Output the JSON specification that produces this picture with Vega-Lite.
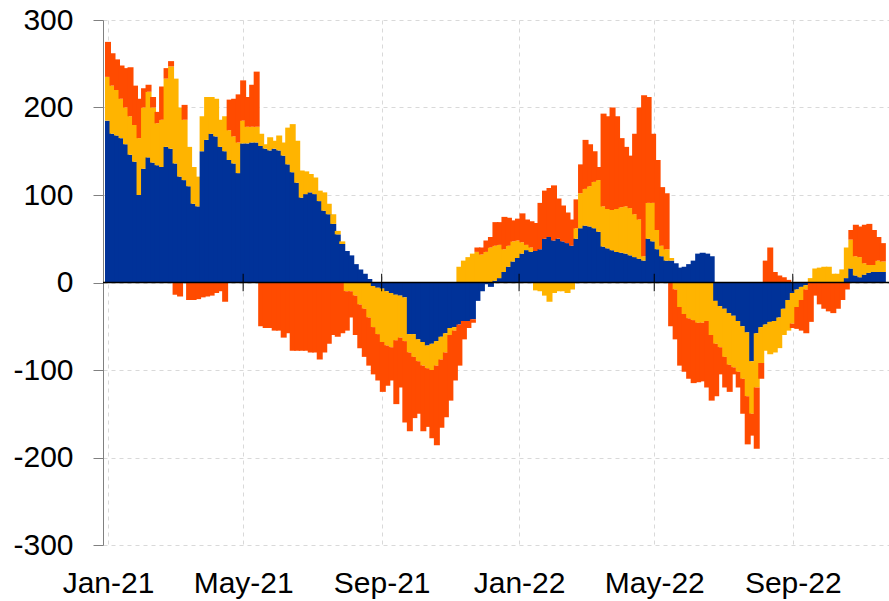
{
"$schema": "https://vega.github.io/schema/vega-lite/v6.json",
"width": 786,
"height": 525,
"autosize": {"type": "none"},
"padding": {"left": 103, "top": 20, "right": 0, "bottom": 56},
"background": "white",
"config": {"view": {"stroke": null}, "font": "Liberation Sans",
  "axis": {"labelFont": "Liberation Sans", "labelFontSize": 30, "labelColor": "#000000", "gridColor": "#d9d9d9", "gridDash": [4, 4], "gridWidth": 1, "title": null}},
"layer": [
{
"data": {"values": [
{"d":"2021-01-01","s1":185,"s2":50,"s3":40},
{"d":"2021-01-05","s1":170,"s2":55,"s3":37},
{"d":"2021-01-09","s1":168,"s2":52,"s3":35},
{"d":"2021-01-13","s1":165,"s2":45,"s3":38},
{"d":"2021-01-17","s1":158,"s2":42,"s3":45},
{"d":"2021-01-21","s1":146,"s2":44,"s3":56},
{"d":"2021-01-25","s1":138,"s2":42,"s3":45},
{"d":"2021-01-29","s1":100,"s2":65,"s3":45},
{"d":"2021-02-02","s1":130,"s2":70,"s3":22},
{"d":"2021-02-06","s1":143,"s2":75,"s3":8},
{"d":"2021-02-10","s1":137,"s2":63,"s3":12},
{"d":"2021-02-14","s1":134,"s2":48,"s3":13},
{"d":"2021-02-18","s1":132,"s2":54,"s3":38},
{"d":"2021-02-22","s1":155,"s2":78,"s3":12},
{"d":"2021-02-26","s1":153,"s2":94,"s3":6},
{"d":"2021-03-02","s1":136,"s2":97,"s3":-14},
{"d":"2021-03-06","s1":121,"s2":79,"s3":-16},
{"d":"2021-03-10","s1":117,"s2":69,"s3":17},
{"d":"2021-03-14","s1":110,"s2":45,"s3":-20},
{"d":"2021-03-18","s1":90,"s2":42,"s3":-20},
{"d":"2021-03-22","s1":87,"s2":34,"s3":-19},
{"d":"2021-03-26","s1":150,"s2":40,"s3":-17},
{"d":"2021-03-30","s1":163,"s2":49,"s3":-16},
{"d":"2021-04-03","s1":170,"s2":42,"s3":-15},
{"d":"2021-04-07","s1":167,"s2":43,"s3":-12},
{"d":"2021-04-11","s1":155,"s2":31,"s3":-10},
{"d":"2021-04-15","s1":150,"s2":40,"s3":-22},
{"d":"2021-04-19","s1":140,"s2":34,"s3":35},
{"d":"2021-04-23","s1":136,"s2":31,"s3":43},
{"d":"2021-04-27","s1":125,"s2":35,"s3":55},
{"d":"2021-05-01","s1":159,"s2":26,"s3":46},
{"d":"2021-05-05","s1":159,"s2":19,"s3":34},
{"d":"2021-05-09","s1":160,"s2":18,"s3":48},
{"d":"2021-05-13","s1":160,"s2":18,"s3":63},
{"d":"2021-05-17","s1":156,"s2":14,"s3":-50},
{"d":"2021-05-21","s1":153,"s2":5,"s3":-52},
{"d":"2021-05-25","s1":151,"s2":15,"s3":-52},
{"d":"2021-05-29","s1":153,"s2":9,"s3":-55},
{"d":"2021-06-02","s1":151,"s2":17,"s3":-55},
{"d":"2021-06-06","s1":145,"s2":15,"s3":-63},
{"d":"2021-06-10","s1":135,"s2":42,"s3":-58},
{"d":"2021-06-14","s1":126,"s2":55,"s3":-78},
{"d":"2021-06-18","s1":114,"s2":48,"s3":-78},
{"d":"2021-06-22","s1":97,"s2":31,"s3":-78},
{"d":"2021-06-26","s1":101,"s2":26,"s3":-78},
{"d":"2021-06-30","s1":103,"s2":21,"s3":-80},
{"d":"2021-07-04","s1":101,"s2":19,"s3":-80},
{"d":"2021-07-08","s1":93,"s2":12,"s3":-88},
{"d":"2021-07-12","s1":82,"s2":21,"s3":-80},
{"d":"2021-07-16","s1":78,"s2":12,"s3":-70},
{"d":"2021-07-20","s1":67,"s2":11,"s3":-60},
{"d":"2021-07-24","s1":55,"s2":4,"s3":-62},
{"d":"2021-07-28","s1":44,"s2":3,"s3":-58},
{"d":"2021-08-01","s1":36,"s2":-10,"s3":-45},
{"d":"2021-08-05","s1":31,"s2":-10,"s3":-30},
{"d":"2021-08-09","s1":21,"s2":-15,"s3":-45},
{"d":"2021-08-13","s1":15,"s2":-25,"s3":-50},
{"d":"2021-08-17","s1":10,"s2":-30,"s3":-55},
{"d":"2021-08-21","s1":4,"s2":-40,"s3":-55},
{"d":"2021-08-25","s1":-4,"s2":-47,"s3":-54},
{"d":"2021-08-29","s1":-6,"s2":-53,"s3":-53},
{"d":"2021-09-02","s1":-7,"s2":-61,"s3":-57},
{"d":"2021-09-06","s1":-10,"s2":-62,"s3":-46},
{"d":"2021-09-10","s1":-12,"s2":-62,"s3":-38},
{"d":"2021-09-14","s1":-14,"s2":-52,"s3":-73},
{"d":"2021-09-18","s1":-15,"s2":-48,"s3":-57},
{"d":"2021-09-22","s1":-17,"s2":-50,"s3":-93},
{"d":"2021-09-26","s1":-59,"s2":-21,"s3":-90},
{"d":"2021-09-30","s1":-59,"s2":-26,"s3":-70},
{"d":"2021-10-04","s1":-65,"s2":-25,"s3":-60},
{"d":"2021-10-08","s1":-68,"s2":-27,"s3":-75},
{"d":"2021-10-12","s1":-72,"s2":-26,"s3":-67},
{"d":"2021-10-16","s1":-70,"s2":-30,"s3":-78},
{"d":"2021-10-20","s1":-67,"s2":-28,"s3":-91},
{"d":"2021-10-24","s1":-62,"s2":-26,"s3":-78},
{"d":"2021-10-28","s1":-58,"s2":-22,"s3":-74},
{"d":"2021-11-01","s1":-52,"s2":-8,"s3":-75},
{"d":"2021-11-05","s1":-51,"s2":-4,"s3":-57},
{"d":"2021-11-09","s1":-48,"s2":18,"s3":-47},
{"d":"2021-11-13","s1":-44,"s2":25,"s3":-21},
{"d":"2021-11-17","s1":-44,"s2":29,"s3":-8},
{"d":"2021-11-21","s1":-42,"s2":33,"s3":-4},
{"d":"2021-11-25","s1":-21,"s2":35,"s3":5},
{"d":"2021-11-29","s1":-10,"s2":32,"s3":8},
{"d":"2021-12-03","s1":-2,"s2":35,"s3":13},
{"d":"2021-12-07","s1":-5,"s2":40,"s3":12},
{"d":"2021-12-11","s1":2,"s2":40,"s3":27},
{"d":"2021-12-15","s1":5,"s2":38,"s3":26},
{"d":"2021-12-19","s1":12,"s2":26,"s3":37},
{"d":"2021-12-23","s1":18,"s2":24,"s3":32},
{"d":"2021-12-27","s1":24,"s2":23,"s3":24},
{"d":"2021-12-31","s1":28,"s2":20,"s3":25},
{"d":"2022-01-04","s1":33,"s2":13,"s3":33},
{"d":"2022-01-08","s1":37,"s2":6,"s3":29},
{"d":"2022-01-12","s1":35,"s2":5,"s3":30},
{"d":"2022-01-16","s1":36,"s2":-9,"s3":32},
{"d":"2022-01-20","s1":38,"s2":-10,"s3":53},
{"d":"2022-01-24","s1":50,"s2":-15,"s3":55},
{"d":"2022-01-28","s1":52,"s2":-22,"s3":56},
{"d":"2022-02-01","s1":48,"s2":-12,"s3":63},
{"d":"2022-02-05","s1":50,"s2":-10,"s3":46},
{"d":"2022-02-09","s1":47,"s2":-10,"s3":41},
{"d":"2022-02-13","s1":45,"s2":-12,"s3":35},
{"d":"2022-02-17","s1":42,"s2":-8,"s3":30},
{"d":"2022-02-21","s1":50,"s2":12,"s3":33},
{"d":"2022-02-25","s1":62,"s2":40,"s3":33},
{"d":"2022-03-01","s1":65,"s2":42,"s3":56},
{"d":"2022-03-05","s1":64,"s2":46,"s3":48},
{"d":"2022-03-09","s1":62,"s2":53,"s3":35},
{"d":"2022-03-13","s1":58,"s2":59,"s3":15},
{"d":"2022-03-17","s1":41,"s2":46,"s3":106},
{"d":"2022-03-21","s1":39,"s2":45,"s3":106},
{"d":"2022-03-25","s1":37,"s2":46,"s3":117},
{"d":"2022-03-29","s1":35,"s2":49,"s3":106},
{"d":"2022-04-02","s1":34,"s2":52,"s3":79},
{"d":"2022-04-06","s1":33,"s2":54,"s3":68},
{"d":"2022-04-10","s1":31,"s2":54,"s3":60},
{"d":"2022-04-14","s1":29,"s2":49,"s3":92},
{"d":"2022-04-18","s1":27,"s2":45,"s3":128},
{"d":"2022-04-22","s1":25,"s2":5,"s3":184},
{"d":"2022-04-26","s1":50,"s2":41,"s3":121},
{"d":"2022-04-30","s1":47,"s2":44,"s3":79},
{"d":"2022-05-04","s1":38,"s2":22,"s3":80},
{"d":"2022-05-08","s1":30,"s2":12,"s3":67},
{"d":"2022-05-12","s1":25,"s2":13,"s3":64},
{"d":"2022-05-16","s1":25,"s2":3,"s3":-50},
{"d":"2022-05-20","s1":22,"s2":-8,"s3":-57},
{"d":"2022-05-24","s1":17,"s2":-28,"s3":-67},
{"d":"2022-05-28","s1":18,"s2":-36,"s3":-66},
{"d":"2022-06-01","s1":21,"s2":-41,"s3":-69},
{"d":"2022-06-05","s1":25,"s2":-43,"s3":-72},
{"d":"2022-06-09","s1":33,"s2":-46,"s3":-68},
{"d":"2022-06-13","s1":34,"s2":-46,"s3":-67},
{"d":"2022-06-17","s1":33,"s2":-44,"s3":-76},
{"d":"2022-06-21","s1":30,"s2":-60,"s3":-75},
{"d":"2022-06-25","s1":-21,"s2":-49,"s3":-60},
{"d":"2022-06-29","s1":-27,"s2":-47,"s3":-31},
{"d":"2022-07-03","s1":-30,"s2":-55,"s3":-35},
{"d":"2022-07-07","s1":-35,"s2":-59,"s3":-31},
{"d":"2022-07-11","s1":-38,"s2":-59,"s3":-8},
{"d":"2022-07-15","s1":-44,"s2":-58,"s3":-18},
{"d":"2022-07-19","s1":-50,"s2":-60,"s3":-40},
{"d":"2022-07-23","s1":-57,"s2":-73,"s3":-55},
{"d":"2022-07-27","s1":-90,"s2":-60,"s3":-25},
{"d":"2022-07-31","s1":-58,"s2":-62,"s3":-70},
{"d":"2022-08-04","s1":-51,"s2":-41,"s3":-18},
{"d":"2022-08-08","s1":-48,"s2":-30,"s3":25},
{"d":"2022-08-12","s1":-45,"s2":-37,"s3":40},
{"d":"2022-08-16","s1":-44,"s2":-36,"s3":12},
{"d":"2022-08-20","s1":-40,"s2":-35,"s3":8},
{"d":"2022-08-24","s1":-30,"s2":-30,"s3":6},
{"d":"2022-08-28","s1":-20,"s2":-35,"s3":3},
{"d":"2022-09-01","s1":-12,"s2":-35,"s3":-5},
{"d":"2022-09-05","s1":-8,"s2":-20,"s3":-25},
{"d":"2022-09-09","s1":-5,"s2":-15,"s3":-35},
{"d":"2022-09-13","s1":-3,"s2":-5,"s3":-50},
{"d":"2022-09-17","s1":0,"s2":5,"s3":-45},
{"d":"2022-09-21","s1":0,"s2":16,"s3":-15},
{"d":"2022-09-25","s1":0,"s2":17,"s3":-25},
{"d":"2022-09-29","s1":0,"s2":18,"s3":-30},
{"d":"2022-10-03","s1":0,"s2":18,"s3":-33},
{"d":"2022-10-07","s1":0,"s2":10,"s3":-35},
{"d":"2022-10-11","s1":0,"s2":10,"s3":-30},
{"d":"2022-10-15","s1":0,"s2":15,"s3":-20},
{"d":"2022-10-19","s1":5,"s2":35,"s3":-8},
{"d":"2022-10-23","s1":16,"s2":33,"s3":11},
{"d":"2022-10-27","s1":8,"s2":22,"s3":36},
{"d":"2022-10-31","s1":6,"s2":23,"s3":35},
{"d":"2022-11-04","s1":9,"s2":13,"s3":44},
{"d":"2022-11-08","s1":11,"s2":9,"s3":47},
{"d":"2022-11-12","s1":12,"s2":8,"s3":40},
{"d":"2022-11-16","s1":12,"s2":13,"s3":27},
{"d":"2022-11-20","s1":12,"s2":12,"s3":21}
]},
"transform": [{"fold": ["s1", "s2", "s3"], "as": ["series", "value"]}],
"mark": {"type": "bar", "size": 6, "clip": true},
"encoding": {
  "x": {"field": "d", "type": "temporal",
    "scale": {"type": "utc", "domain": [{"year": 2021, "month": 1, "date": 1, "utc": true}, {"year": 2022, "month": 11, "date": 21, "utc": true}]},
    "axis": {"labelExpr": "utcFormat(datum.value, '%b-%y')", "domain": false, "ticks": false, "grid": true, "labelPadding": 23, "labelOverlap": false, "labelFlush": false,
      "values": [{"year": 2021, "month": 1, "date": 1, "utc": true}, {"year": 2021, "month": 5, "date": 1, "utc": true}, {"year": 2021, "month": 9, "date": 1, "utc": true}, {"year": 2022, "month": 1, "date": 1, "utc": true}, {"year": 2022, "month": 5, "date": 1, "utc": true}, {"year": 2022, "month": 9, "date": 1, "utc": true}]}},
  "y": {"field": "value", "type": "quantitative", "stack": "zero",
    "scale": {"domain": [-300, 300], "nice": false},
    "axis": {"values": [-300, -200, -100, 0, 100, 200, 300], "labelExpr": "'' + datum.value", "tickSize": 10, "tickColor": "#808080", "domainColor": "#808080", "labelPadding": 20, "grid": true}},
  "color": {"field": "series", "type": "nominal", "scale": {"domain": ["s1", "s2", "s3"], "range": ["#003299", "#FFB400", "#FF4B00"]}, "legend": null},
  "order": {"field": "series", "sort": "ascending"}
}
},
{
"data": {"values": [{}]},
"mark": {"type": "rule", "color": "#000000", "strokeWidth": 1.5},
"encoding": {"y": {"datum": 0}}
},
{
"data": {"values": [{"d": "2021-05-01"}, {"d": "2021-09-01"}, {"d": "2022-01-01"}, {"d": "2022-05-01"}, {"d": "2022-09-01"}]},
"mark": {"type": "rule", "color": "#000000", "strokeWidth": 1},
"encoding": {"x": {"field": "d", "type": "temporal"}, "y": {"datum": -10}, "y2": {"datum": 10}}
}
]
}
